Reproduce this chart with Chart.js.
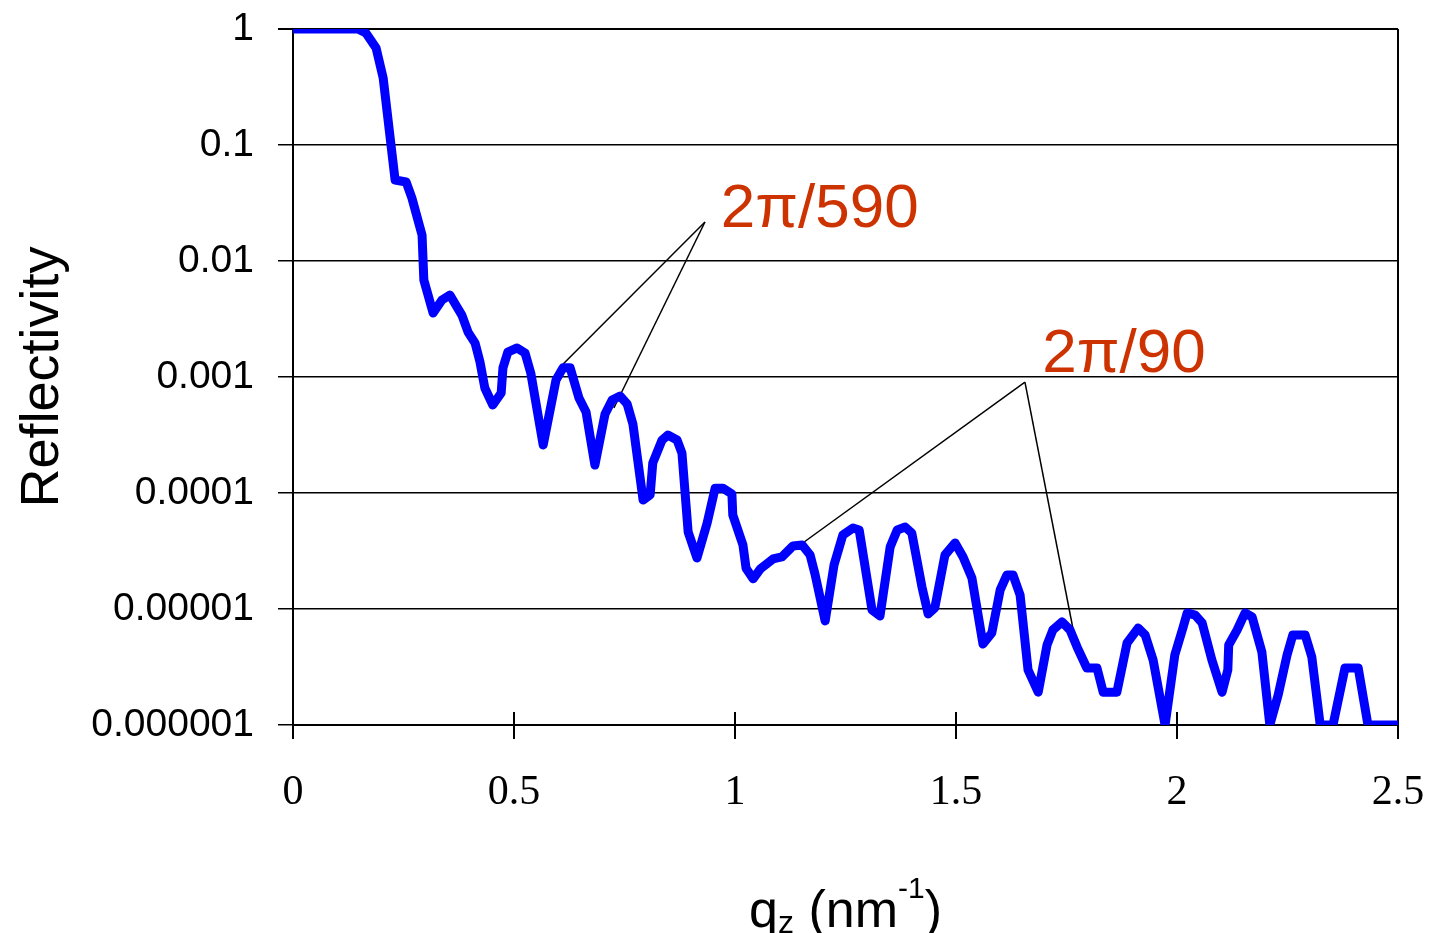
<!DOCTYPE html>
<html><head><meta charset="utf-8">
<script src="https://cdn.jsdelivr.net/npm/chart.js@4.4.1/dist/chart.umd.min.js"></script>
<style>html,body{margin:0;padding:0;background:#fff}#wrap{width:1430px;height:933px;position:relative}</style>
</head><body><div id="wrap"><canvas id="c"></canvas></div>
<script>
const qValues = [0, 0.147, 0.165, 0.188, 0.204, 0.231, 0.256, 0.269, 0.292, 0.296,
  0.317, 0.337, 0.355, 0.371, 0.382, 0.396, 0.412, 0.423, 0.434, 0.452,
  0.471, 0.475, 0.486, 0.507, 0.525, 0.538, 0.566, 0.595, 0.611, 0.627,
  0.647, 0.663, 0.683, 0.706, 0.722, 0.740, 0.756, 0.769, 0.792, 0.808,
  0.814, 0.835, 0.848, 0.869, 0.880, 0.894, 0.914, 0.937, 0.955, 0.973,
  0.993, 0.995, 1.018, 1.025, 1.041, 1.057, 1.086, 1.106, 1.131, 1.152,
  1.170, 1.181, 1.204, 1.224, 1.244, 1.267, 1.281, 1.310, 1.328, 1.351,
  1.367, 1.385, 1.400, 1.423, 1.437, 1.452, 1.475, 1.498, 1.516, 1.536,
  1.561, 1.581, 1.600, 1.615, 1.629, 1.645, 1.663, 1.686, 1.706, 1.719,
  1.740, 1.758, 1.774, 1.796, 1.819, 1.833, 1.864, 1.887, 1.912, 1.928,
  1.946, 1.973, 1.995, 2.014, 2.023, 2.041, 2.057, 2.079, 2.102, 2.115,
  2.117, 2.136, 2.154, 2.170, 2.192, 2.210, 2.229, 2.249, 2.262, 2.290,
  2.305, 2.324, 2.353, 2.380, 2.410, 2.432, 2.5];
const reflectivity = [1, 1, 0.925, 0.686, 0.378, 0.0499, 0.048, 0.0349, 0.0167, 0.00686,
  0.00356, 0.00461, 0.00509, 0.00401, 0.00342, 0.00244, 0.00196, 0.00135, 0.000804, 0.000574,
  0.000728, 0.0012, 0.00164, 0.00178, 0.00161, 0.00108, 0.000259, 0.000942, 0.0012, 0.0012,
  0.000659, 0.000499, 0.000174, 0.00048, 0.000634, 0.000685, 0.000585, 0.000394, 0.0000871, 0.0000962,
  0.000182, 0.000286, 0.000316, 0.000286, 0.000221, 0.0000461, 0.0000275, 0.0000551, 0.00011, 0.00011,
  0.000098, 0.0000646, 0.0000356, 0.0000225, 0.0000182, 0.0000221, 0.000027, 0.0000281, 0.0000349, 0.0000356,
  0.0000292, 0.00002, 0.00000789, 0.0000239, 0.0000435, 0.0000499, 0.000048, 0.0000098, 0.0000087, 0.0000342,
  0.000048, 0.0000509, 0.0000452, 0.0000155, 0.00000906, 0.0000102, 0.0000292, 0.0000371, 0.0000281, 0.0000185,
  0.00000499, 0.00000621, 0.0000146, 0.0000196, 0.0000196, 0.0000132, 0.00000298, 0.00000192, 0.0000049, 0.00000659,
  0.00000773, 0.00000659, 0.0000047, 0.0000031, 0.0000031, 0.00000192, 0.00000192, 0.00000509, 0.00000685, 0.00000597,
  0.00000363, 0.000001, 0.00000401, 0.000007, 0.00000925, 0.00000887, 0.00000757, 0.00000363, 0.00000192, 0.00000298,
  0.0000049, 0.00000659, 0.00000925, 0.00000853, 0.00000426, 0.000001, 0.00000182, 0.00000401, 0.00000597, 0.00000597,
  0.00000386, 0.000001, 0.000001, 0.0000031, 0.0000031, 0.000001, 0.000001];

const xTickValues = [0, 0.5, 1, 1.5, 2, 2.5];
const xTickLabels = ['0', '0.5', '1', '1.5', '2', '2.5'];
const yTickValues = [1e-6, 1e-5, 1e-4, 1e-3, 1e-2, 1e-1, 1];
const yTickLabels = ['0.000001', '0.00001', '0.0001', '0.001', '0.01', '0.1', '1'];

const annotationLabels = ['2π/590', '2π/90'];
const annotationLabelQ = [0.968, 1.695];
const annotationLabelR = [0.0196, 0.0011];
const annotationApexQ = [0.932, 1.656];
const annotationApexR = [0.0217, 0.000905];
const annotationEndQ = [[0.609, 0.726], [1.122, 1.774]];
const annotationEndR = [[0.00127, 0.00054], [0.0000304, 0.00000443]];

const yTitle = 'Reflectivity';
const xTitleParts = [
  {t: 'q', k: 'n'}, {t: 'z', k: 'sub'}, {t: ' (nm', k: 'n'}, {t: '-1', k: 'sup'}, {t: ')', k: 'n'}
];

const SANS = '"Liberation Sans", Arial, sans-serif';
const SERIF = '"Liberation Serif", "Times New Roman", serif';

const decor = {
  id: 'decor',
  beforeDatasetsDraw(chart) {
    const {ctx, chartArea: a, scales: {x, y}} = chart;
    ctx.save();
    ctx.strokeStyle = '#000';
    ctx.lineWidth = 2;
    ctx.beginPath(); ctx.moveTo(a.right, a.top); ctx.lineTo(a.right, a.bottom); ctx.stroke();
    xTickValues.forEach(v => {
      const px = x.getPixelForValue(v);
      ctx.beginPath(); ctx.moveTo(px, a.bottom); ctx.lineTo(px, a.bottom - 13); ctx.stroke();
    });
    ctx.lineWidth = 1.5;
    annotationApexQ.forEach((aq, i) => {
      const ax = x.getPixelForValue(aq), ay = y.getPixelForValue(annotationApexR[i]);
      annotationEndQ[i].forEach((eq, j) => {
        ctx.beginPath(); ctx.moveTo(ax, ay);
        ctx.lineTo(x.getPixelForValue(eq), y.getPixelForValue(annotationEndR[i][j]));
        ctx.stroke();
      });
    });
    ctx.restore();
  },
  afterDraw(chart) {
    const {ctx, chartArea: a, scales: {x, y}} = chart;
    ctx.save();
    ctx.fillStyle = '#CC3300';
    ctx.font = '62px ' + SANS;
    ctx.textAlign = 'left'; ctx.textBaseline = 'alphabetic';
    annotationLabels.forEach((t, i) => {
      ctx.fillText(t, x.getPixelForValue(annotationLabelQ[i]), y.getPixelForValue(annotationLabelR[i]));
    });
    ctx.fillStyle = '#000';
    // y title
    ctx.save();
    ctx.translate(58, (a.top + a.bottom) / 2);
    ctx.rotate(-Math.PI / 2);
    ctx.font = '54px ' + SANS;
    ctx.textAlign = 'center';
    ctx.fillText(yTitle, 0, 0);
    ctx.restore();
    // x title
    const fonts = {n: '52px ' + SANS, sub: '32px ' + SANS, sup: '30px ' + SANS};
    const dy = {n: 0, sub: 6, sup: -29};
    let total = 0;
    xTitleParts.forEach(p => { ctx.font = fonts[p.k]; p.w = ctx.measureText(p.t).width; total += p.w; });
    let cx = (a.left + a.right) / 2 - total / 2;
    const base = 927;
    ctx.textAlign = 'left';
    xTitleParts.forEach(p => { ctx.font = fonts[p.k]; ctx.fillText(p.t, cx, base + dy[p.k]); cx += p.w; });
    ctx.restore();
  }
};

new Chart(document.getElementById('c'), {
  type: 'line',
  data: {
    datasets: [{
      data: qValues.map((q, i) => ({x: q, y: reflectivity[i]})),
      borderColor: '#0000FF',
      borderWidth: 9,
      pointRadius: 0,
      tension: 0,
      borderJoinStyle: 'round',
      fill: false
    }]
  },
  options: {
    responsive: true,
    maintainAspectRatio: false,
    animation: false,
    events: [],
    layout: {padding: {top: 29, right: 32, left: 0, bottom: 0}},
    plugins: {legend: {display: false}, tooltip: {enabled: false}, title: {display: false}},
    scales: {
      x: {
        type: 'linear', min: 0, max: 2.5,
        afterBuildTicks: s => { s.ticks = xTickValues.map(v => ({value: v})); },
        afterFit: s => { s.height = 933 - 725; s.paddingLeft = 0; s.paddingRight = 0; },
        ticks: {
          callback: (v, i) => xTickLabels[i],
          font: {family: SERIF, size: 42},
          color: '#000', padding: 29, maxRotation: 0, autoSkip: false
        },
        grid: {display: true, drawOnChartArea: false, drawTicks: true, tickLength: 14, color: '#000', lineWidth: 2},
        border: {display: true, color: '#000', width: 2}
      },
      y: {
        type: 'logarithmic', min: 1e-6, max: 1,
        afterBuildTicks: s => { s.ticks = yTickValues.map(v => ({value: v})); },
        afterFit: s => { s.width = 293; s.paddingTop = 0; s.paddingBottom = 0; },
        ticks: {
          callback: (v, i) => yTickLabels[i],
          font: {family: SANS, size: 39},
          color: '#000', padding: 24, autoSkip: false
        },
        grid: {display: true, drawOnChartArea: true, drawTicks: true, tickLength: 15, color: '#000',
               lineWidth: c => (c.tick && c.tick.value === 1) ? 2 : 1.5},
        border: {display: true, color: '#000', width: 2}
      }
    }
  },
  plugins: [decor]
});
</script>
</body></html>
